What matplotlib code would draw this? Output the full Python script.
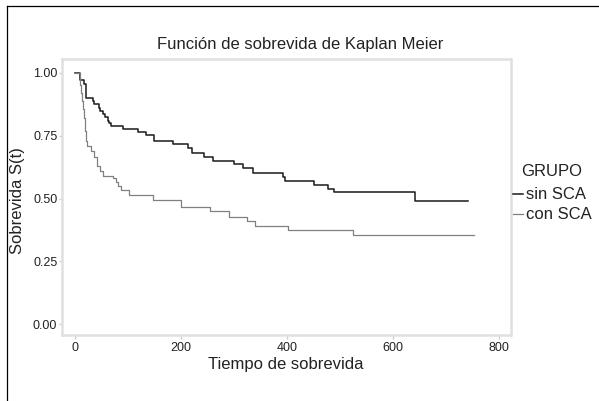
import matplotlib
matplotlib.use("Agg")
import matplotlib.pyplot as plt
from matplotlib.lines import Line2D

# Kaplan-Meier steps
sin_t = [0, 9, 16, 21, 33, 36, 44, 47, 52, 56, 61, 64, 68, 91, 119, 133, 148,
         185, 213, 221, 243, 260, 299, 317, 335, 392, 396, 451, 477, 488, 642, 742]
sin_s = [1.0, 0.97, 0.955, 0.90, 0.887, 0.877, 0.86, 0.85, 0.838, 0.826, 0.81,
         0.80, 0.787, 0.775, 0.764, 0.752, 0.73, 0.715, 0.70, 0.683, 0.666,
         0.651, 0.637, 0.62, 0.602, 0.587, 0.570, 0.554, 0.539, 0.526, 0.489, 0.489]

con_t = [0, 8, 11, 13, 15, 17, 19, 20, 22, 29, 36, 41, 46, 52, 72, 77, 81, 86,
         102, 146, 199, 255, 290, 324, 339, 401, 525, 754]
con_s = [1.0, 0.95, 0.92, 0.889, 0.857, 0.82, 0.77, 0.73, 0.71, 0.69, 0.665,
         0.63, 0.61, 0.59, 0.58, 0.567, 0.55, 0.534, 0.514, 0.494, 0.468, 0.45,
         0.425, 0.412, 0.392, 0.374, 0.356, 0.356]

groups = ["sin SCA", "con SCA"]
xticks = [0, 200, 400, 600, 800]
yticks = [0.0, 0.25, 0.50, 0.75, 1.00]

plt.rcParams['font.family'] = ['Liberation Sans', 'DejaVu Sans']

fig = plt.figure(figsize=(5.99, 4.01), dpi=100)
ax = fig.add_axes([61.5 / 599, 1 - 335 / 401, 449 / 599, 276 / 401])

ax.step(sin_t, sin_s, where='post', color='#1a1a1a', lw=1.1, label=groups[0])
ax.step(con_t, con_s, where='post', color='#808080', lw=0.9, label=groups[1])

ax.set_xlim(-26, 822)
ax.set_ylim(-0.043, 1.055)
ax.set_xticks(xticks)
ax.set_yticks(yticks)
ax.set_yticklabels(["%.2f" % v for v in yticks])
ax.tick_params(axis='x', length=3, width=1, color='#cccccc', pad=2,
               labelsize=9, labelcolor='#222222')
ax.tick_params(axis='y', length=2, width=1, color='#cccccc', pad=1,
               labelsize=9, labelcolor='#222222')
for sp in ax.spines.values():
    sp.set_color('#e0e0e0')
    sp.set_linewidth(1.8)

ax.set_xlabel("Tiempo de sobrevida", fontsize=12, color='#222222', labelpad=2)
fig.text(17.5 / 599, 1 - 201 / 401, "Sobrevida S(t)", rotation=90,
         ha='center', va='center', fontsize=12, color='#222222')
fig.text(300 / 599, 1 - 45 / 401, "Función de sobrevida de Kaplan Meier",
         ha='center', va='center', fontsize=12, color='#222222')

leg = fig.legend(title="GRUPO", loc='upper left',
                 bbox_to_anchor=(513 / 599, 1 - 164 / 401), frameon=False,
                 fontsize=12, title_fontsize=12, handlelength=0.6,
                 handletextpad=0.15, labelspacing=0.3, borderpad=0,
                 borderaxespad=0)
leg.get_title().set_color('#222222')
leg._legend_box.sep = 6
for t in leg.get_texts():
    t.set_color('#222222')

# outer frame (left and top edges visible)
fig.add_artist(Line2D([7 / 599, 7 / 599], [0, 1 - 6 / 401], color='black', lw=0.9))
fig.add_artist(Line2D([7 / 599, 1], [1 - 6 / 401, 1 - 6 / 401], color='black', lw=0.9))

fig.savefig("out.png", dpi=100)
